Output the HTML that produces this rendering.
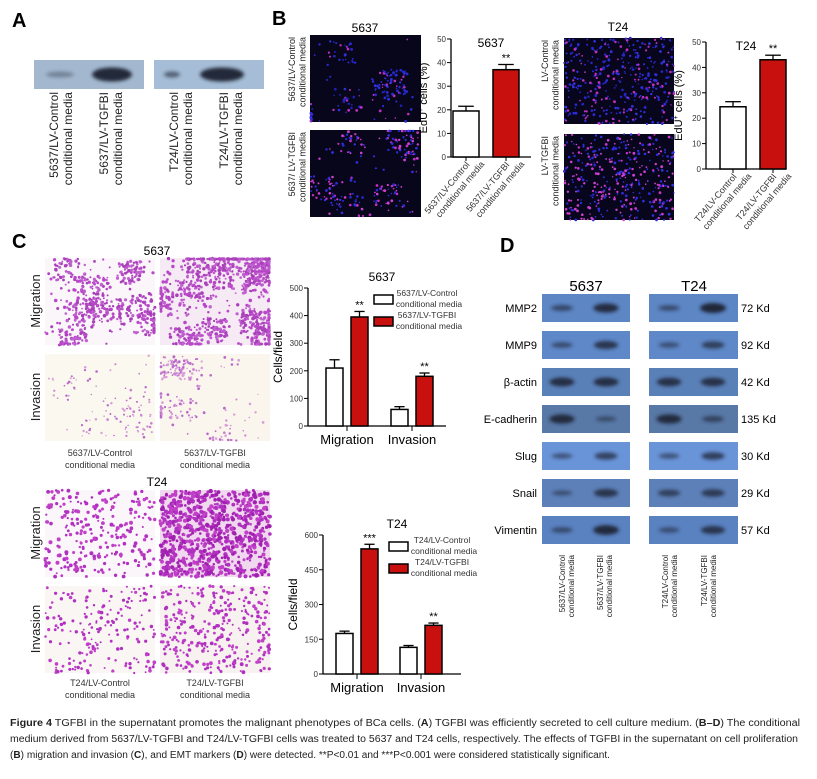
<!DOCTYPE html>
<html><head><meta charset="utf-8"><style>
html,body{margin:0;padding:0;background:#fff;}
svg{display:block;font-family:"Liberation Sans",Arial,sans-serif;}
</style></head><body>
<svg id="fig" width="817" height="779" viewBox="0 0 817 779">
<g id="static">
<text x="12" y="27" font-size="20" font-weight="bold">A</text>
<text x="272" y="25" font-size="20" font-weight="bold">B</text>
<text x="12" y="248" font-size="20" font-weight="bold">C</text>
<text x="500" y="252" font-size="20" font-weight="bold">D</text>
</g>
<g id="layer"></g>
<g font-size="10" fill="#222">
<text x="10" y="726" textLength="790" lengthAdjust="spacingAndGlyphs"><tspan font-weight="bold">Figure 4</tspan> TGFBI in the supernatant promotes the malignant phenotypes of BCa cells. (<tspan font-weight="bold">A</tspan>) TGFBI was efficiently secreted to cell culture medium. (<tspan font-weight="bold">B–D</tspan>) The conditional</text>
<text x="10" y="742" textLength="788" lengthAdjust="spacingAndGlyphs">medium derived from 5637/LV-TGFBI and T24/LV-TGFBI cells was treated to 5637 and T24 cells, respectively. The effects of TGFBI in the supernatant on cell proliferation</text>
<text x="10" y="758" textLength="600" lengthAdjust="spacingAndGlyphs">(<tspan font-weight="bold">B</tspan>) migration and invasion (<tspan font-weight="bold">C</tspan>), and EMT markers (<tspan font-weight="bold">D</tspan>) were detected. **P&lt;0.01 and ***P&lt;0.001 were considered statistically significant.</text>
</g>
</svg>
<script>
// ---- chart data ----
const bCats = ["Control","TGFBI"];
const b5637Vals = [19.5, 37];
const b5637Err = [2, 2.2];
const bT24Vals = [24.5, 43];
const bT24Err = [2, 1.8];
const bTicks = [0,10,20,30,40,50];
const cGroups = ["Migration","Invasion"];
const c5637Ctrl = [210, 60];
const c5637Tgfbi = [395, 180];
const c5637CtrlErr = [30, 10];
const c5637TgfbiErr = [20, 12];
const c5637Ticks = [0,100,200,300,400,500];
const cT24Ctrl = [175, 115];
const cT24Tgfbi = [540, 210];
const cT24CtrlErr = [10, 8];
const cT24TgfbiErr = [20, 10];
const cT24Ticks = [0,150,300,450,600];
const dMarkers = ["MMP2","MMP9","β-actin","E-cadherin","Slug","Snail","Vimentin"];
const dKd = ["72 Kd","92 Kd","42 Kd","135 Kd","30 Kd","29 Kd","57 Kd"];
const d5637Ctrl = [0.45,0.4,0.85,0.9,0.35,0.3,0.4];
const d5637Tgfbi = [0.9,0.75,0.85,0.3,0.6,0.75,0.95];
const dT24Ctrl = [0.4,0.35,0.8,0.9,0.35,0.55,0.35];
const dT24Tgfbi = [1.0,0.6,0.8,0.45,0.65,0.65,0.75];

const NS="http://www.w3.org/2000/svg";
const L=document.getElementById('layer');
function mk(tag,attrs,parent,txt){const e=document.createElementNS(NS,tag);for(const k in attrs)e.setAttribute(k,attrs[k]);if(txt!==undefined)e.textContent=txt;(parent||L).appendChild(e);return e;}
let seed=7;function rnd(){seed=(seed*16807)%2147483647;return (seed-1)/2147483646;}

function rtext(x,y,lines,fs,name,anchor){
  const t=mk('text',{transform:`translate(${x},${y}) rotate(-90)`,'font-size':fs,'text-anchor':anchor||'end',fill:'#222'});
  
  
  lines.forEach((s,i)=>mk('tspan',{x:0,dy:i?fs*1.15:0},t,s));
  return t;
}

function blot(x,y,w,h,bg,bands,name){
  const g=mk('g',{});
  
  
  mk('rect',{x,y,width:w,height:h,fill:bg},g);
  bands.forEach(b=>{mk('ellipse',{cx:b[0],cy:y+h/2,rx:b[1],ry:b[2],fill:'#1a2230',opacity:b[3],filter:'url(#blur)'},g);});
}
const defs=mk('defs',{});
const f=mk('filter',{id:'blur',x:'-30%',y:'-60%',width:'160%',height:'220%'},defs);
mk('feGaussianBlur',{stdDeviation:'1.8'},f);
blot(34,60,110,29,'#a3b8cf',[[60,14,3,0.35],[112,20,7,0.95]],'blot-a-5637');
blot(154,60,110,29,'#a5bdd6',[[172,8,3,0.6],[222,22,7,0.95]],'blot-a-t24');
rtext(58,92,["5637/LV-Control","conditional media"],12,'blot-a-lane-1');
rtext(108,92,["5637/LV-TGFBI","conditional media"],12,'blot-a-lane-2');
rtext(178,92,["T24/LV-Control","conditional media"],12,'blot-a-lane-3');
rtext(228,92,["T24/LV-TGFBI","conditional media"],12,'blot-a-lane-4');

function micro(x,y,w,h,bg,n,colors,r,name,clump){
  const g=mk('g',{});
  
  
  mk('rect',{x,y,width:w,height:h,fill:bg},g);
  const centers=[];
  if(clump){for(let k=0;k<clump;k++)centers.push([x+rnd()*w,y+rnd()*h]);}
  for(let i=0;i<n;i++){const c=colors[Math.floor(rnd()*colors.length)];
    let cx,cy;
    if(clump && rnd()<0.8){const ce=centers[Math.floor(rnd()*centers.length)];cx=ce[0]+(rnd()-0.5)*28;cy=ce[1]+(rnd()-0.5)*24;cx=Math.min(x+w-1,Math.max(x+1,cx));cy=Math.min(y+h-1,Math.max(y+1,cy));}
    else{cx=x+rnd()*w;cy=y+rnd()*h;}
    mk('circle',{cx:cx.toFixed(1),cy:cy.toFixed(1),r:(r*(0.6+rnd()*0.6)).toFixed(1),fill:c},g);}
}
micro(310,35,111,87,'#08061a',170,['#2a2ad8','#3030e0','#2020b0','#2a2ad8','#c030c0'],1.2,'edu-5637-control',6);
micro(310,130,111,87,'#08061a',230,['#2a2ad8','#3030e0','#c030c0','#d040d0'],1.2,'edu-5637-tgfbi',6);
micro(564,38,110,86,'#08061c',380,['#2a2ad8','#3232e0','#2525c0','#c030c0'],1.2,'edu-t24-control');
micro(564,134,110,86,'#08061c',380,['#2a2ad8','#c838c8','#d040d0','#3030e0'],1.2,'edu-t24-tgfbi');
mk('text',{x:365,y:32,'font-size':12,'text-anchor':'middle'},L,'5637');
mk('text',{x:618,y:31,'font-size':12,'text-anchor':'middle'},L,'T24');
rtext(295,37,["5637/LV-Control","conditional media"],9,'edu-5637-row-1','end');
rtext(295,132,["5637/ LV-TGFBI","conditional media"],9,'edu-5637-row-2','end');
rtext(548,40,["LV-Control","conditional media"],9,'edu-t24-row-1','end');
rtext(548,136,["LV-TGFBI","conditional media"],9,'edu-t24-row-2','end');

micro(45,258,110,87,'#fbf6fa',550,['#b848c8','#c060d0','#a840b8'],1.5,'transwell-5637-mig-control',9);
micro(160,258,110,87,'#f6eaf4',1000,['#b848c8','#c060d0','#a840b8'],1.5,'transwell-5637-mig-tgfbi',14);
micro(45,354,110,87,'#fbf8ef',110,['#c880d0','#b868c8','#d8a0d8'],1.1,'transwell-5637-inv-control',5);
micro(160,354,110,87,'#faf6ee',220,['#c880d0','#b868c8','#d8a0d8'],1.2,'transwell-5637-inv-tgfbi',6);
micro(45,490,110,87,'#fbf6fa',260,['#b030c0','#c040c8'],1.7,'transwell-t24-mig-control');
micro(160,490,110,87,'#f0d8ee',800,['#b030c0','#c040c8','#a020b0'],1.9,'transwell-t24-mig-tgfbi');
micro(45,586,110,87,'#f9f6f3',190,['#b030c0','#c040c8'],1.5,'transwell-t24-inv-control');
micro(160,586,110,87,'#f7f1f0',320,['#b030c0','#c040c8'],1.6,'transwell-t24-inv-tgfbi');
mk('text',{x:157,y:255,'font-size':12,'text-anchor':'middle'},L,'5637');
mk('text',{x:157,y:486,'font-size':12,'text-anchor':'middle'},L,'T24');
rtext(40,301,["Migration"],13,'row-label-migration-5637','middle');
rtext(40,397,["Invasion"],13,'row-label-invasion-5637','middle');
rtext(40,533,["Migration"],13,'row-label-migration-t24','middle');
rtext(40,629,["Invasion"],13,'row-label-invasion-t24','middle');
[[100,456,"5637/LV-Control"],[215,456,"5637/LV-TGFBI"],[100,686,"T24/LV-Control"],[215,686,"T24/LV-TGFBI"]].forEach(a=>{
  const t=mk('text',{x:a[0],y:a[1],'font-size':9,'text-anchor':'middle',fill:'#333'});
  
  
  mk('tspan',{x:a[0],dy:0},t,a[2]);mk('tspan',{x:a[0],dy:12},t,'conditional media');
});

function barChart(o){
  const g=mk('g',{});
  
  
  const max=o.ticks[o.ticks.length-1];
  const yS=v=>o.y0-(v/max)*(o.y0-o.yTop);
  mk('line',{x1:o.ax,y1:o.yTop,x2:o.ax,y2:o.y0,stroke:'#000','stroke-width':1.3},g);
  mk('line',{x1:o.ax,y1:o.y0,x2:o.xEnd,y2:o.y0,stroke:'#000','stroke-width':1.3},g);
  o.ticks.forEach(t=>{const y=yS(t);
    const tk=mk('line',{x1:o.ax-4,y1:y,x2:o.ax,y2:y,stroke:'#000'},g);
    
    const tl=mk('text',{x:o.ax-5,y:y+3,'font-size':o.tfs,'text-anchor':'end',fill:'#333'},g,String(t));
    
  });
  const yl=mk('text',{transform:`translate(${o.ax-o.ylOff},${(o.y0+o.yTop)/2}) rotate(-90)`,'font-size':o.ylfs,'text-anchor':'middle'},g);
  
  o.yl(yl);
  o.bars.forEach(b=>{
    const y=yS(b.v), ye=yS(b.v+b.e), cx=b.x+o.bw/2;
    mk('line',{x1:cx,y1:ye,x2:cx,y2:y,stroke:'#000','stroke-width':1.3},g);
    mk('line',{x1:cx-o.bw*0.3,y1:ye,x2:cx+o.bw*0.3,y2:ye,stroke:'#000','stroke-width':1.3},g);
    const r=mk('rect',{x:b.x,y:y,width:o.bw,height:o.y0-y,fill:b.fill,stroke:'#000','stroke-width':1.5},g);
    
    if(b.star){const s=mk('text',{x:cx,y:ye-3,'font-size':11,'text-anchor':'middle'},g,b.star);}
  });
  return {g,yS};
}
function edu(name,ax,y0,yTop,vals,errs,x0,title,labels){
  const c=barChart({name,ax,y0,yTop,xEnd:ax+80,ticks:bTicks,tfs:8,ylfs:11,ylOff:24,bw:26,
    yl:t=>{mk('tspan',{},t,'EdU');mk('tspan',{dy:-4,'font-size':7},t,'+');mk('tspan',{dy:4},t,' cells (%)');},
    bars:bCats.map((c,i)=>({x:x0+i*40,v:vals[i],e:errs[i],fill:i?'#c8110f':'#fff',star:i?'**':'',name:'bar-'+c.toLowerCase()}))});
  mk('text',{x:ax+40,y:yTop+8,'font-size':12,'text-anchor':'middle'},c.g,title);
  labels.forEach((l,i)=>{const cx=x0+i*40+13;
    mk('line',{x1:cx,y1:y0,x2:cx,y2:y0+4,stroke:'#000'},c.g);
    const t=mk('text',{transform:`translate(${cx+4},${y0+8}) rotate(-50)`,'font-size':9,'text-anchor':'end',fill:'#333'},c.g);
    mk('tspan',{x:0,dy:0},t,l);mk('tspan',{x:10,dy:11},t,'conditional media');});
}
edu('chart-edu-5637',451,157,39,b5637Vals,b5637Err,453,'5637',['5637/LV-Control','5637/LV-TGFBI']);
edu('chart-edu-t24',706,169,42,bT24Vals,bT24Err,720,'T24',['T24/LV-Control','T24/LV-TGFBI']);

function tw(name,ax,y0,yTop,ticks,ctrl,tg,ce,te,xs,title,stars,legend){
  const bars=[];
  cGroups.forEach((gname,i)=>{
    bars.push({x:xs[i],v:ctrl[i],e:ce[i],fill:'#fff',name:'bar-'+gname.toLowerCase()+'-control'});
    bars.push({x:xs[i]+25,v:tg[i],e:te[i],fill:'#c8110f',star:stars[i],name:'bar-'+gname.toLowerCase()+'-tgfbi'});
  });
  const c=barChart({name,ax,y0,yTop,xEnd:ax+138,ticks,tfs:8,ylfs:12,ylOff:26,bw:17,yl:t=>{t.textContent='Cells/field';},bars});
  mk('text',{x:ax+74,y:yTop-7,'font-size':12,'text-anchor':'middle'},c.g,title);
  cGroups.forEach((gname,i)=>{const cx=xs[i]+21;
    mk('line',{x1:cx,y1:y0,x2:cx,y2:y0+5,stroke:'#000'},c.g);
    const t=mk('text',{x:cx,y:y0+18,'font-size':13,'text-anchor':'middle'},c.g,gname);
    });
  legend.forEach((l,i)=>{const ly=yTop+12+i*22;
    const lg=mk('g',{},c.g);
    
    
    mk('rect',{x:ax+66,y:ly-5,width:19,height:9,fill:i?'#c8110f':'#fff',stroke:'#000','stroke-width':1.5},lg);
    const t=mk('text',{x:ax+119,y:ly-4,'font-size':8.5,'text-anchor':'middle',fill:'#333'},lg);
    mk('tspan',{x:ax+119,dy:0},t,l);mk('tspan',{x:ax+121,dy:11},t,'conditional media');});
}
tw('chart-transwell-5637',308,426,288,c5637Ticks,c5637Ctrl,c5637Tgfbi,c5637CtrlErr,c5637TgfbiErr,[326,391],'5637',['**','**'],['5637/LV-Control','5637/LV-TGFBI']);
tw('chart-transwell-t24',323,674,535,cT24Ticks,cT24Ctrl,cT24Tgfbi,cT24CtrlErr,cT24TgfbiErr,[336,400],'T24',['***','**'],['T24/LV-Control','T24/LV-TGFBI']);

mk('text',{x:586,y:291,'font-size':15,'text-anchor':'middle'},L,'5637');
mk('text',{x:694,y:291,'font-size':15,'text-anchor':'middle'},L,'T24');
const bgCols=['#5d86c4','#5f88c8','#5a80b8','#5878a6','#6a94d8','#5d80b8','#5a82c0'];
dMarkers.forEach((m,i)=>{
  const y=294+i*37;
  const lbl=mk('text',{x:537,y:y+18,'font-size':11,'text-anchor':'end'},L,m);
  
  
  blot(542,y,88,28,bgCols[i],[[562,9+4*d5637Ctrl[i],1.5+3.5*d5637Ctrl[i],0.35+0.6*d5637Ctrl[i]],[606,9+4*d5637Tgfbi[i],1.5+3.5*d5637Tgfbi[i],0.35+0.6*d5637Tgfbi[i]]],'blot-d-5637-'+i);
  blot(649,y,89,28,bgCols[i],[[669,9+4*dT24Ctrl[i],1.5+3.5*dT24Ctrl[i],0.35+0.6*dT24Ctrl[i]],[713,9+4*dT24Tgfbi[i],1.5+3.5*dT24Tgfbi[i],0.35+0.6*dT24Tgfbi[i]]],'blot-d-t24-'+i);
  const k=mk('text',{x:741,y:y+18,'font-size':11},L,dKd[i]);
  
  
});
rtext(565,555,["5637/LV-Control","conditional media"],8,'blot-d-lane-1');
rtext(603,555,["5637/LV-TGFBI","conditional media"],8,'blot-d-lane-2');
rtext(668,555,["T24/LV-Control","conditional media"],8,'blot-d-lane-3');
rtext(707,555,["T24/LV-TGFBI","conditional media"],8,'blot-d-lane-4');
</script>
</body></html>
